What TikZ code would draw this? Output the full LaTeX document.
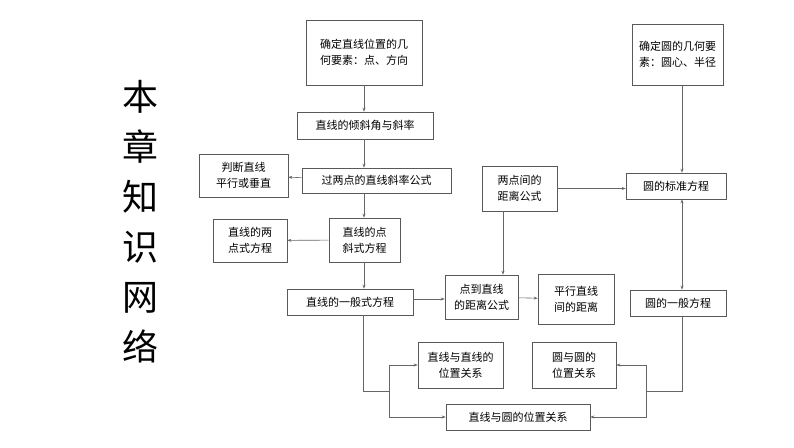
\documentclass[tikz,border=0pt]{standalone}
\usepackage{fontspec}
\setmainfont{Noto Sans CJK SC}
\usetikzlibrary{arrows.meta}
\begin{document}
\begin{tikzpicture}[x=1pt,y=-1pt,
 bx/.style={draw=black!65,line width=0.6pt,align=center,font=\fontsize{11}{16}\selectfont,inner sep=0pt},
 ar/.style={draw=black!60,line width=0.6pt,-{Stealth[length=4pt,width=3pt]}},
 ln/.style={draw=black!60,line width=0.6pt}]
\useasboundingbox (0,0) rectangle (794,447);
\newcommand\bxat[6]{\node[bx,minimum width=#4-#2,minimum height=#5-#3] (#1) at ({(#2+#4)/2},{(#3+#5)/2}) {#6};}
\bxat{t1}{306}{20}{422}{85}{确定直线位置的几\\何要素：点、方向}
\bxat{t2}{632}{24}{723}{85}{确定圆的几何要\\素：圆心、半径}
\bxat{qx}{297}{112}{433}{139}{直线的倾斜角与斜率}
\bxat{pd}{199}{154}{288}{197}{判断直线\\平行或垂直}
\bxat{gl}{302}{168}{451}{193}{过两点的直线斜率公式}
\bxat{ld}{213}{219}{287}{262}{直线的两\\点式方程}
\bxat{dx}{329}{218}{400}{262}{直线的点\\斜式方程}
\bxat{yb}{287}{289}{413}{315}{直线的一般式方程}
\bxat{dd}{445}{275}{518}{319}{点到直线\\的距离公式}
\bxat{px}{538}{274}{614}{324}{平行直线\\间的距离}
\bxat{lj}{482}{166}{557}{211}{两点间的\\距离公式}
\bxat{cb}{626}{173}{726}{199}{圆的标准方程}
\bxat{cy}{630}{290}{726}{316}{圆的一般方程}
\bxat{zz}{418}{342}{503}{388}{直线与直线的\\位置关系}
\bxat{yy}{532}{342}{616}{388}{圆与圆的\\位置关系}
\bxat{zy}{446}{404}{590}{430}{直线与圆的位置关系}
\node[font=\fontsize{36}{50}\selectfont,align=center,inner sep=0pt] (title) at (140,222) {本\\章\\知\\识\\网\\络};
\coordinate (c) at (364,0);
\coordinate (r) at (0,299);
\draw[ar] (t1.south -| c) -- (qx.north -| c);
\draw[ar] (qx.south -| c) -- (gl.north -| c);
\draw[ar] (gl) -- (pd);
\draw[ar] (gl.south -| c) -- (dx.north -| c);
\draw[ar] (dx) -- (ld);
\draw[ar] (dx.south -| c) -- (yb.north -| c);
\draw[ar] (yb.east |- r) -- (dd.west |- r);
\draw[ar] (dd) -- (px);
\draw[ar] (lj.south -| 503,0) -- (503,0 |- dd.north);
\draw[ar] (lj) -- (lj -| cb.west);
\draw[ar] (t2.south -| 682,0) -- (682,0 |- cb.north);
\draw[ar,{Stealth[length=4pt,width=3pt]}-{Stealth[length=4pt,width=3pt]}] (682,0 |- cb.south) -- (682,0 |- cy.north);
\coordinate (a1) at (363,391);
\coordinate (a2) at (389,391);
\draw[ln] (yb.south -| a1) -- (a1) -- (a2);
\draw[ar] (a2) |- (zz.west);
\draw[ar] (a2) |- (zy.west);
\coordinate (b1) at (682,391);
\coordinate (b2) at (646,391);
\draw[ln] (cy.south -| b1) -- (b1) -- (b2);
\draw[ar] (b2) |- (yy.east);
\draw[ar] (b2) |- (zy.east);
\end{tikzpicture}
\end{document}
